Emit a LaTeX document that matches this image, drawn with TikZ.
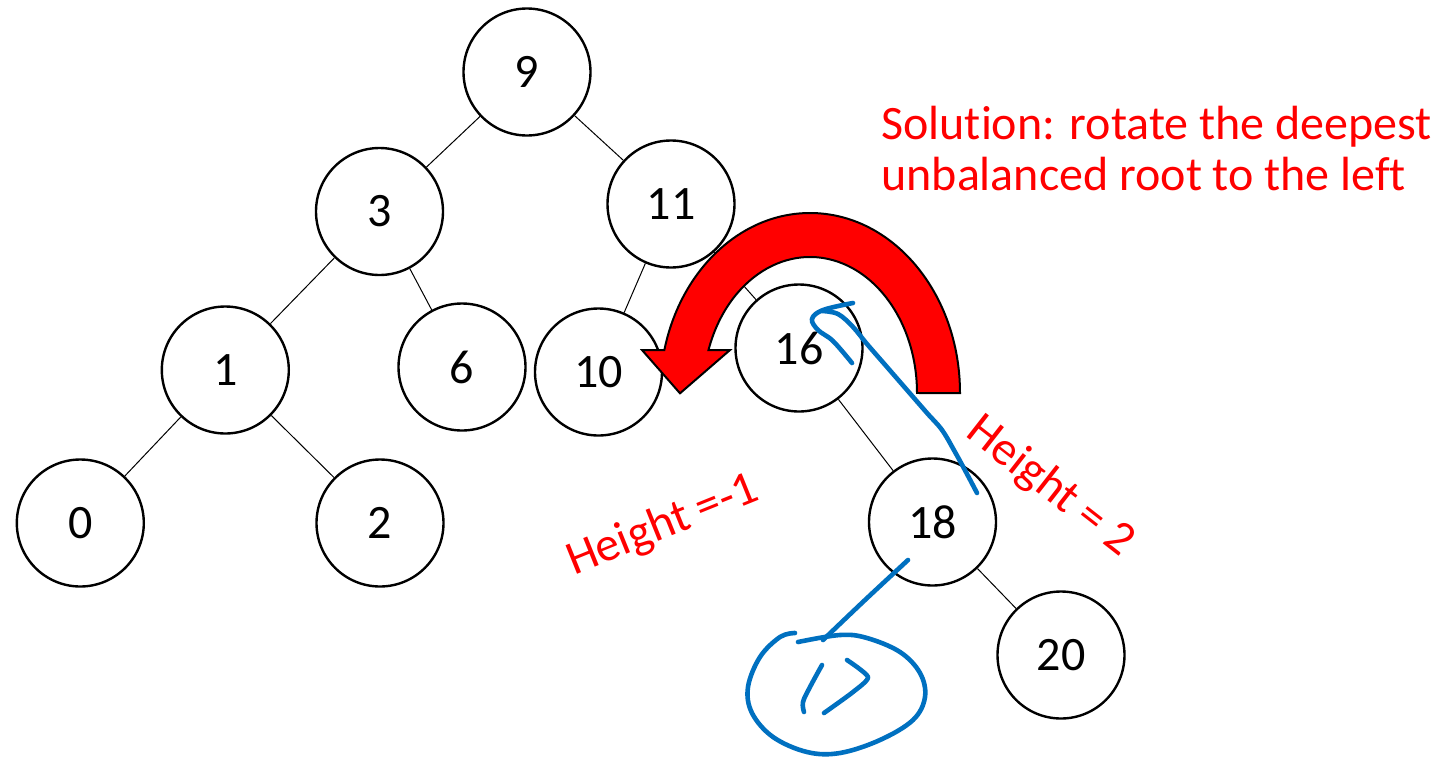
\documentclass[tikz,border=0pt]{standalone}
\usepackage{fontspec}
\setmainfont{Carlito}[Ligatures=NoCommon,RawFeature={-liga;-clig}]
\definecolor{inkblue}{RGB}{0,112,192}
\definecolor{pptred}{RGB}{255,0,0}
\begin{document}
\begin{tikzpicture}[x=0.5pt,y=-0.5pt,
  treenode/.style={circle,draw=black,line width=1.2pt,fill=white,minimum size=63.5pt,inner sep=0pt,font=\fontsize{24}{28}\selectfont},
  edge/.style={draw=black,line width=0.5pt},
  ink/.style={draw=inkblue,line width=2.3pt,line cap=round,line join=round},
  redlabel/.style={text=pptred,font=\fontsize{24}{25.5}\selectfont,inner sep=0pt}]
\useasboundingbox[fill=white] (0,0) rectangle (1452,756);
% nodes
\node[treenode] (n9) at (527,72) {9};
\node[treenode] (n3) at (379.5,211.5) {3};
\node[treenode] (n11) at (671,204) {11};
\node[treenode] (n1) at (225.3,370) {1};
\node[treenode] (n6) at (462,367) {6};
\node[treenode] (n10) at (598.5,372) {10};
\node[treenode] (n16) at (799,348) {16};
\node[treenode] (n0) at (80.3,523) {0};
\node[treenode] (n2) at (380,523) {2};
\node[treenode] (n18) at (932.5,522) {18};
\node[treenode] (n20) at (1061,655) {20};
% edges
\draw[edge] (n9) -- (n3);
\draw[edge] (n9) -- (n11);
\draw[edge] (n3) -- (n1);
\draw[edge] (n3) -- (n6);
\draw[edge] (n1) -- (n0);
\draw[edge] (n1) -- (n2);
\draw[edge] (n11) -- (n10);
\draw[edge] (n11) -- (n16);
\draw[edge] (n16) -- (n18);
\draw[edge] (n18) -- (n20);
% red curved arrow
\draw[fill=pptred,draw=black,line width=1pt,line join=miter]
  (960,393) arc[start angle=0,end angle=-166.18,x radius=150,y radius=180]
  -- (642,350) -- (680,393.3) -- (730,350) -- (708.5,350)
  arc[start angle=-161.57,end angle=0,x radius=107,y radius=136] -- cycle;
% blue ink
\draw[ink] plot[smooth,tension=0.6] coordinates {(853,303) (823,310) (812,319) (818,330) (833,341) (852,363)};
\draw[ink] plot[smooth,tension=0.6] coordinates {(822,311) (838,314) (853,327) (867,344) (887,367) (907,390) (927,413) (942,430) (955,452) (967,474) (977,493)};
\draw[ink] plot[smooth,tension=0.5] coordinates {(908,560) (865,600) (823,640)};
\draw[ink] plot[smooth,tension=0.6] coordinates {(795,633) (780,637) (760,657) (748,687) (752,713) (773,737) (807,752) (840,753) (880,740) (913,720) (925,697) (920,673) (900,652) (867,638) (840,635) (798,642)};
\draw[ink] plot[smooth,tension=0.6] coordinates {(822,665) (810,687) (803,702) (804,712)};
\draw[ink] plot[smooth,tension=0.4] coordinates {(847,660) (868,677) (853,692) (824,713)};
% red texts
\node[redlabel,anchor=base west,align=left] (sol) at (881,190) {Solution: rotate the deepest\\unbalanced root to the left};
\node[redlabel,rotate=22] (hl) at (663,526) {Height =-1};
\node[redlabel,rotate=-38] (hr) at (1050,487) {Height = 2};
\end{tikzpicture}
\end{document}
